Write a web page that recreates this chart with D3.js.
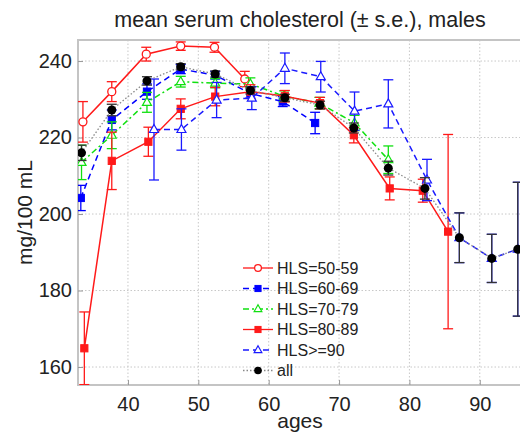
<!DOCTYPE html>
<html>
<head>
<meta charset="utf-8">
<script src="https://cdn.jsdelivr.net/npm/d3@7"></script>
<style>
  body { margin: 0; background: #fff; }
  text { font-family: "Liberation Sans", Arial, sans-serif; fill: #222; }
</style>
</head>
<body>
<svg width="520" height="435"></svg>
<script>
// HLS=50-59
var ages5059 = [33.6, 37.7, 42.6, 47.5, 52.3, 56.6];
var mean5059 = [224.1, 232.0, 241.8, 243.9, 243.6, 235.3];
var se5059   = [5.3, 2.6, 1.8, 1.1, 1.3, 2.0];

// HLS=60-69
var ages6069 = [33.3, 37.7, 42.7, 47.5, 52.4, 57.4, 62.0, 66.6];
var mean6069 = [204.2, 224.6, 232.0, 237.9, 236.3, 231.5, 229.4, 223.8];
var se6069   = [3.3, 2.6, 2.0, 1.2, 1.0, 1.2, 1.3, 2.8];

// HLS=70-79
var ages7079 = [33.4, 37.7, 42.7, 47.5, 52.4, 57.4, 62.2, 67.2, 72.2, 77.0];
var mean7079 = [213.5, 220.6, 229.2, 234.6, 234.2, 234.0, 230.8, 229.0, 223.8, 214.2];
var se7079   = [4.5, 3.5, 2.6, 1.4, 1.2, 1.6, 1.4, 1.5, 2.0, 3.6];

// HLS=80-89
var ages8089 = [33.8, 37.7, 42.9, 47.5, 52.4, 57.4, 62.3, 67.3, 72.1, 77.2, 81.9, 85.5];
var mean8089 = [164.9, 213.9, 218.9, 227.5, 230.7, 232.0, 230.8, 229.0, 220.6, 206.7, 206.1, 195.4];
var se8089   = [9.5, 7.5, 3.8, 2.6, 2.4, 1.8, 1.5, 1.5, 2.0, 3.0, 3.0, 25.4];

// HLS>=90
var ages90 = [43.7, 47.6, 52.6, 57.6, 62.3, 67.4, 72.2, 77.0, 82.5, 87.1, 91.7, 95.4];
var mean90 = [222.1, 222.1, 229.8, 230.3, 238.1, 235.9, 226.9, 228.8, 208.9, 193.8, 188.4, 190.8];
var se90   = [13.2, 5.4, 4.6, 3.0, 4.0, 4.0, 5.0, 6.3, 5.4, 6.5, 6.3, 17.5];

// all
var agesAll = [33.4, 37.7, 42.7, 47.5, 52.4, 57.4, 62.3, 67.3, 72.1, 77.0, 82.2, 87.1, 91.7, 95.4];
var meanAll = [216.0, 227.2, 234.8, 238.5, 236.6, 232.3, 230.4, 228.5, 222.5, 212.0, 206.7, 193.8, 188.4, 190.8];
var seAll   = [2.0, 1.5, 1.1, 0.8, 0.8, 0.9, 0.9, 1.0, 1.3, 1.8, 2.8, 6.5, 6.3, 17.5];

var xTicks = [40, 50, 60, 70, 80, 90];
var yTicks = [160, 180, 200, 220, 240];

var seriesNames = ["HLS=50-59", "HLS=60-69", "HLS=70-79", "HLS=80-89", "HLS>=90", "all"];

var pLeft = 78, pRight = 522, pTop = 40, pBottom = 385;

var svg = d3.select("svg");

var x = d3.scaleLinear().domain([32.9, 96.0]).range([pLeft, pRight]);
var y = d3.scaleLinear().domain([155.3, 245.5]).range([pBottom, pTop]);

function zip(a, m, s) {
  return a.map(function(d, i) { return {age: d, v: m[i], se: s[i]}; });
}

var series = [
  {name: seriesNames[0], pts: zip(ages5059, mean5059, se5059), color: "#ff1a1a", dash: null, marker: "circle", fill: "#fff"},
  {name: seriesNames[1], pts: zip(ages6069, mean6069, se6069), color: "#0000ff", dash: "6,4", marker: "square", fill: "#0000ff"},
  {name: seriesNames[2], pts: zip(ages7079, mean7079, se7079), color: "#10e010", dash: "6,3,2,3", marker: "triangle", fill: "#fff"},
  {name: seriesNames[3], pts: zip(ages8089, mean8089, se8089), color: "#ff1a1a", dash: null, marker: "square", fill: "#ff1a1a"},
  {name: seriesNames[4], pts: zip(ages90, mean90, se90), color: "#1a1aff", dash: "6,4", marker: "triangle", fill: "#fff"},
  {name: seriesNames[5], pts: zip(agesAll, meanAll, seAll), color: "#000", line: "#888", dash: "1.5,2", marker: "dot", fill: "#000"}
];

// grid
var grid = svg.append("g");
grid.selectAll(".gx").data(xTicks).enter().append("line")
  .attr("x1", function(d) { return x(d); }).attr("x2", function(d) { return x(d); })
  .attr("y1", pTop).attr("y2", pBottom)
  .attr("stroke", "#c8c8c8").attr("stroke-dasharray", "1.5,2");
grid.selectAll(".gy").data(yTicks).enter().append("line")
  .attr("y1", function(d) { return y(d); }).attr("y2", function(d) { return y(d); })
  .attr("x1", pLeft).attr("x2", pRight)
  .attr("stroke", "#c8c8c8").attr("stroke-dasharray", "1.5,2");

// frame
svg.append("rect").attr("x", pLeft).attr("y", pTop)
  .attr("width", pRight - pLeft).attr("height", pBottom - pTop)
  .attr("fill", "none").attr("stroke", "#c4c4c4").attr("stroke-width", 2);

// axes
var xAxis = svg.append("g").attr("transform", "translate(0," + pBottom + ")")
  .call(d3.axisBottom(x).tickValues(xTicks).tickSizeInner(-5).tickSizeOuter(0).tickPadding(12));
var yAxis = svg.append("g").attr("transform", "translate(" + pLeft + ",0)")
  .call(d3.axisLeft(y).tickValues(yTicks).tickSizeInner(-5).tickSizeOuter(0).tickPadding(6));
[xAxis, yAxis].forEach(function(a) {
  a.select(".domain").remove();
  a.selectAll(".tick line").attr("stroke", "#999");
  a.selectAll(".tick text").style("font-size", "20px").attr("fill", "#222");
});
xAxis.selectAll(".tick text").attr("dy", "0.71em");

// clip
svg.append("clipPath").attr("id", "clip").append("rect")
  .attr("x", pLeft).attr("y", pTop).attr("width", pRight - pLeft).attr("height", pBottom - pTop);
var plot = svg.append("g").attr("clip-path", "url(#clip)");

var lineGen = d3.line().x(function(d) { return x(d.age); }).y(function(d) { return y(d.v); });

function drawMarker(g, s, cx, cy, scale) {
  scale = scale || 1;
  if (s.marker === "circle") {
    g.append("circle").attr("cx", cx).attr("cy", cy).attr("r", 4 * scale)
      .attr("fill", s.fill).attr("stroke", s.color).attr("stroke-width", 1.3);
  } else if (s.marker === "square") {
    var h = 3.6 * scale;
    g.append("rect").attr("x", cx - h).attr("y", cy - h).attr("width", 2 * h).attr("height", 2 * h)
      .attr("fill", s.fill).attr("stroke", s.color).attr("stroke-width", 1);
  } else if (s.marker === "triangle") {
    var r = 5 * scale;
    g.append("path")
      .attr("d", "M" + cx + "," + (cy - r) + "L" + (cx + r * 0.9) + "," + (cy + r * 0.6) + "L" + (cx - r * 0.9) + "," + (cy + r * 0.6) + "Z")
      .attr("fill", s.fill).attr("stroke", s.color).attr("stroke-width", 1.2);
  } else {
    g.append("circle").attr("cx", cx).attr("cy", cy).attr("r", 4.5 * scale).attr("fill", "#000");
  }
}

series.forEach(function(s) {
  var g = plot.append("g");
  var ebColor = s.marker === "dot" ? "#333" : s.color;
  // error bars
  var eb = g.selectAll(".eb").data(s.pts).enter().append("g");
  eb.append("line")
    .attr("x1", function(d) { return x(d.age); }).attr("x2", function(d) { return x(d.age); })
    .attr("y1", function(d) { return y(d.v - d.se); }).attr("y2", function(d) { return y(d.v + d.se); })
    .attr("stroke", ebColor).attr("stroke-width", 1.3);
  [-1, 1].forEach(function(sign) {
    eb.append("line")
      .attr("x1", function(d) { return x(d.age) - 5; }).attr("x2", function(d) { return x(d.age) + 5; })
      .attr("y1", function(d) { return y(d.v + sign * d.se); }).attr("y2", function(d) { return y(d.v + sign * d.se); })
      .attr("stroke", ebColor).attr("stroke-width", 1.3);
  });
  // line
  g.append("path").datum(s.pts).attr("d", lineGen)
    .attr("fill", "none").attr("stroke", s.line || s.color).attr("stroke-width", s.marker === "dot" ? 1.3 : 1.5)
    .attr("stroke-dasharray", s.dash);
  s.pts.forEach(function(d) { drawMarker(g, s, x(d.age), y(d.v)); });
});

// legend
var legend = svg.append("g");
series.forEach(function(s, i) {
  var ly = 268 + i * 20.5;
  legend.append("line").attr("x1", 243).attr("x2", 273).attr("y1", ly).attr("y2", ly)
    .attr("stroke", s.line || s.color).attr("stroke-width", 1.3).attr("stroke-dasharray", s.dash);
  drawMarker(legend, s, 258, ly, 0.85);
  legend.append("text").attr("x", 277).attr("y", ly).attr("dy", "0.35em")
    .style("font-size", "16px").text(s.name);
});

// title and labels
svg.append("text").attr("x", 300).attr("y", 27).attr("text-anchor", "middle")
  .style("font-size", "21.5px").text("mean serum cholesterol (\u00b1 s.e.), males");
svg.append("text").attr("x", 300).attr("y", 428).attr("text-anchor", "middle")
  .style("font-size", "21px").text("ages");
svg.append("text").attr("transform", "translate(32," + ((pTop + pBottom) / 2) + ") rotate(-90)")
  .attr("text-anchor", "middle").style("font-size", "21px").text("mg/100 mL");
</script>
</body>
</html>
